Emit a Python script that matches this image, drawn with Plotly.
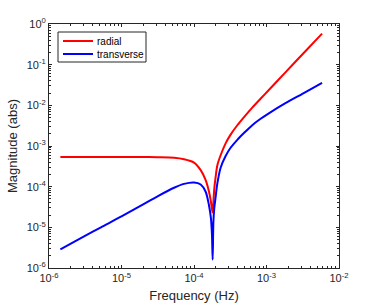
import plotly.graph_objects as go

# ---- data ----
freq_hz = [1.435e-6, 2e-6, 3e-6, 5.21e-6, 1e-5, 1.85e-5, 3.14e-5, 5.31e-5, 7.28e-5,
           1e-4, 1.237e-4, 1.448e-4, 1.608e-4, 1.71e-4, 1.77e-4, 1.808e-4, 1.85e-4,
           1.9e-4, 1.988e-4, 2.099e-4, 2.329e-4, 2.729e-4, 3.198e-4, 3.954e-4, 5e-4,
           6.36e-4, 8.2e-4, 1.076e-3, 1.825e-3, 3.26e-3, 5.84e-3]

radial_abs = [5.4e-4, 5.4e-4, 5.4e-4, 5.4e-4, 5.39e-4, 5.36e-4, 5.28e-4, 5.12e-4, 4.72e-4,
              3.92e-4, 2.55e-4, 1.45e-4, 7.6e-5, 4.3e-5, 2.8e-5, 2.3e-5, 4.0e-5,
              8.5e-5, 1.74e-4, 3.37e-4, 5.92e-4, 1.16e-3, 1.9e-3, 3.24e-3, 5.37e-3,
              8.79e-3, 1.43e-2, 2.38e-2, 6.48e-2, 0.194, 0.578]

transverse_abs = [2.89e-6, 4.0e-6, 5.9e-6, 1.0e-5, 1.85e-5, 3.4e-5, 5.8e-5, 9.4e-5, 1.17e-4,
                  1.27e-4, 1.13e-4, 7.5e-5, 3.5e-5, 1.7e-5, 6.5e-6, 1.6e-6, 1.3e-5,
                  2.85e-5, 5.6e-5, 1.2e-4, 2.92e-4, 5.69e-4, 9.04e-4, 1.42e-3, 2.17e-3,
                  3.25e-3, 4.6e-3, 6.37e-3, 1.13e-2, 2.0e-2, 3.58e-2]

series_names = ["radial", "transverse"]
series_colors = ["#ff0000", "#0000ff"]

x_tick_vals = [1e-6, 1e-5, 1e-4, 1e-3, 1e-2]
x_tick_text = ["10<sup>-6</sup>", "10<sup>-5</sup>", "10<sup>-4</sup>", "10<sup>-3</sup>", "10<sup>-2</sup>"]
y_tick_vals = [1e-6, 1e-5, 1e-4, 1e-3, 1e-2, 1e-1, 1e0]
y_tick_text = ["10<sup>-6</sup>", "10<sup>-5</sup>", "10<sup>-4</sup>", "10<sup>-3</sup>",
               "10<sup>-2</sup>", "10<sup>-1</sup>", "10<sup>0</sup>"]

x_title = "Frequency (Hz)"
y_title = "Magnitude (abs)"

# ---- styling / layout ----
W, H = 374, 307
M_L, M_R, M_T, M_B = 49, 35, 24, 39
axis_color = "#262626"
font_family = "Liberation Sans, Arial, Helvetica, sans-serif"


def minor_vals(lo, hi):
    return [m * 10.0 ** e for e in range(lo, hi) for m in range(2, 10)]


def px_x(px):
    return (px - M_L) / (W - M_L - M_R)


def px_y(py):
    return 1 - (py - M_T) / (H - M_T - M_B)


fig = go.Figure()
for name, vals, col in zip(series_names, [radial_abs, transverse_abs], series_colors):
    fig.add_trace(go.Scatter(x=freq_hz, y=vals, mode="lines", name=name,
                             line=dict(color=col, width=2, shape="spline", smoothing=0.8),
                             showlegend=False))

common_axis = dict(
    type="log", tickmode="array", ticks="inside", ticklen=3, tickwidth=1,
    tickcolor=axis_color, showline=True, linecolor=axis_color, linewidth=1,
    mirror="allticks", showgrid=False, zeroline=False, automargin=False,
    tickfont=dict(size=11, color=axis_color, family=font_family),
)

fig.update_xaxes(
    range=[-6, -2], tickvals=x_tick_vals, ticktext=x_tick_text,
    title=dict(text=x_title, font=dict(size=13, color=axis_color, family=font_family), standoff=7),
    minor=dict(tickmode="array", tickvals=minor_vals(-6, -2), ticks="inside", ticklen=2,
               tickcolor=axis_color, showgrid=False),
    **common_axis,
)
fig.update_yaxes(
    range=[-6, 0], tickvals=y_tick_vals, ticktext=y_tick_text,
    title=dict(text=y_title, font=dict(size=13, color=axis_color, family=font_family), standoff=6),
    minor=dict(tickmode="array", tickvals=minor_vals(-6, 0), ticks="inside", ticklen=2,
               tickcolor=axis_color, showgrid=False),
    **common_axis,
)

# legend box drawn in the top-left corner, MATLAB style
shapes = [dict(type="rect", xref="paper", yref="paper",
               x0=px_x(58), x1=px_x(146), y0=px_y(62), y1=px_y(32),
               line=dict(color=axis_color, width=1), fillcolor="white", layer="above")]
annotations = []
for i, (name, col) in enumerate(zip(series_names, series_colors)):
    row_y = 41 + 13 * i
    shapes.append(dict(type="line", xref="paper", yref="paper",
                       x0=px_x(63), x1=px_x(93), y0=px_y(row_y), y1=px_y(row_y),
                       line=dict(color=col, width=2), layer="above"))
    annotations.append(dict(text=name, xref="paper", yref="paper",
                            x=px_x(95), y=px_y(row_y), xanchor="left", yanchor="middle",
                            showarrow=False, font=dict(size=10, color="black", family=font_family)))

fig.update_layout(
    width=W, height=H,
    margin=dict(l=M_L, r=M_R, t=M_T, b=M_B, autoexpand=False),
    paper_bgcolor="white", plot_bgcolor="white",
    font=dict(family=font_family, size=11, color=axis_color),
    showlegend=False,
    shapes=shapes, annotations=annotations,
)

fig.write_html("out.html", config={"displayModeBar": False},
               post_script="document.body.style.margin='0px';document.body.style.overflow='hidden';")
